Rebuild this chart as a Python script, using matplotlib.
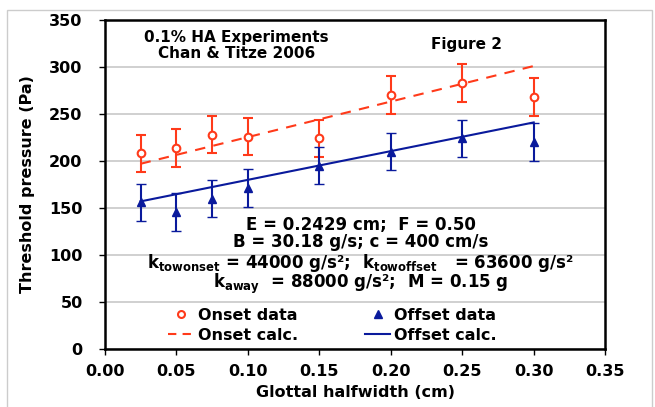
import numpy as np
import matplotlib
matplotlib.use("Agg")
import matplotlib.pyplot as plt
from matplotlib.patches import Rectangle

# glottal halfwidth (cm)
halfwidth = [0.025, 0.05, 0.075, 0.10, 0.15, 0.20, 0.25, 0.30]
onset_data = [208, 214, 228, 226, 224, 270, 283, 268]
offset_data = [156, 146, 160, 171, 195, 210, 224, 220]
err = [20, 20, 20, 20, 20, 20, 20, 20]

# calculated lines (end points)
calc_x = [0.025, 0.30]
onset_calc = [197, 301]
offset_calc = [157, 241]

red = "#FF3A1A"
blue = "#0A1A9C"

plt.rcParams['font.family'] = ['DejaVu Sans']
plt.rcParams['font.weight'] = 'bold'
plt.rcParams['mathtext.default'] = 'regular'

fig = plt.figure(figsize=(6.55, 4.07), dpi=100)
ax = fig.add_axes([0.160, 0.1425, 0.764, 0.8085])

# light outer frame of the chart area
fig.patches.append(Rectangle((0.011, -0.01), 0.985, 0.985, transform=fig.transFigure,
                             fill=False, edgecolor="#cccccc", lw=1.0))

ax.errorbar(halfwidth, onset_data, yerr=err, fmt='o', mfc='white', mec=red, ecolor=red,
            ms=5.5, mew=1.5, elinewidth=1.5, capsize=3.5, capthick=1.5, zorder=3)
ax.errorbar(halfwidth, offset_data, yerr=err, fmt='^', mfc=blue, mec=blue, ecolor=blue,
            ms=5.5, mew=1.0, elinewidth=1.5, capsize=3.5, capthick=1.5, zorder=3)
ax.plot(calc_x, onset_calc, '--', color=red, lw=1.5, dashes=(5, 4))
ax.plot(calc_x, offset_calc, '-', color=blue, lw=1.5)

h1 = ax.plot([], [], 'o', mfc='white', mec=red, ms=5, mew=1.5)[0]
h2 = ax.plot([], [], '--', color=red, lw=1.5, dashes=(4, 3))[0]
h3 = ax.plot([], [], '^', color=blue, ms=6)[0]
h4 = ax.plot([], [], '-', color=blue, lw=1.5)[0]
ax.legend([h1, h2, h3, h4], ["Onset data", "Onset calc.", "Offset data", "Offset calc."],
          ncol=2, loc='lower center', bbox_to_anchor=(0.455, -0.025), frameon=False,
          prop={'size': 11.5, 'weight': 'bold'}, handlelength=1.6, handletextpad=0.25,
          columnspacing=4.2, labelspacing=0.3)

ax.set_xlim(0, 0.35)
ax.set_ylim(0, 350)
ax.set_xticks(np.arange(0, 0.351, 0.05))
ax.set_yticks(np.arange(0, 351, 50))
ax.xaxis.set_major_formatter(matplotlib.ticker.FormatStrFormatter('%.2f'))
ax.yaxis.grid(True, color="#c8c8c8", lw=1.2)
ax.set_axisbelow(True)
for s in ax.spines.values():
    s.set_linewidth(1.8)
ax.tick_params(labelsize=11.5, length=4, width=1, direction='out')
ax.tick_params(axis='y', pad=12)
ax.tick_params(axis='x', pad=7)
ax.set_xlabel("Glottal halfwidth (cm)", fontsize=11.5, fontweight='bold', labelpad=4)
ax.set_ylabel("Threshold pressure (Pa)", fontsize=11.5, fontweight='bold', labelpad=10)

ax.text(0.092, 323, "0.1% HA Experiments\nChan & Titze 2006", ha='center', va='center',
        fontsize=11, fontweight='bold', linespacing=1.05)
ax.text(0.253, 324, "Figure 2", ha='center', va='center', fontsize=11, fontweight='bold')

ann = ["E = 0.2429 cm;  F = 0.50",
       "B = 30.18 g/s; c = 400 cm/s",
       "k$_{towonset}$ = 44000 g/s²;  k$_{towoffset}$   = 63600 g/s²",
       "k$_{away}$  = 88000 g/s²;  M = 0.15 g"]
ann_y = [132, 114, 92, 69]
for t, y in zip(ann, ann_y):
    ax.text(0.179, y, t, ha='center', va='center', fontsize=12, fontweight='bold')

fig.savefig("out.png", dpi=100)
